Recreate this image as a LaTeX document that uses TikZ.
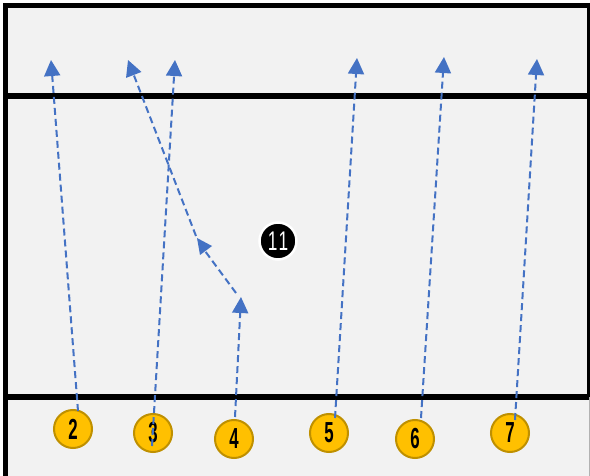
\documentclass[tikz,border=0pt]{standalone}
\usepackage{fontspec}
\usepackage{graphicx}
\setmainfont{Liberation Sans}
\usetikzlibrary{arrows.meta}
\definecolor{bg}{HTML}{F2F2F2}
\definecolor{gold}{HTML}{FFC000}
\definecolor{goldedge}{HTML}{BF9000}
\definecolor{runblue}{HTML}{4472C4}
\begin{document}
\begin{tikzpicture}[x=1pt,y=-1pt,
  player/.style={circle,fill=gold,draw=goldedge,line width=2pt,minimum size=38pt,inner sep=0pt,
    font=\fontsize{29}{29}\selectfont\bfseries},
  keeper/.style={circle,fill=black,draw=white,line width=2.5pt,minimum size=37pt,inner sep=0pt,
    text=white,font=\fontsize{27}{27}\selectfont},
  run/.style={draw=runblue,line width=2pt,dash pattern=on 7pt off 4pt},
  runarrow/.style={run,-{Triangle[length=16pt,width=16pt]}},
  frame/.style={draw=black,line width=5.5pt}]
\useasboundingbox (0,0) rectangle (590,476);
% background
\fill[white] (0,0) rectangle (590,476);
\fill[bg] (3,3) rectangle (590,476);
% frame
\draw[frame] (5.5,476) -- (5.5,5.5) -- (590,5.5);
\draw[frame] (3,96) -- (590,96);
\draw[frame] (3,397) -- (590,397);
\draw[black,line width=2.5pt] (588.5,3) -- (588.5,397);
\draw[gray!60,line width=1pt] (589,397) -- (589,476);
% players
\node[player] (p2) at (73,429) {\scalebox{0.58}[1]{2}};
\node[player] (p3) at (153,433) {\scalebox{0.58}[1]{3}};
\node[player] (p4) at (234,439) {\scalebox{0.58}[1]{4}};
\node[player] (p5) at (329,433) {\scalebox{0.58}[1]{5}};
\node[player] (p6) at (415,439) {\scalebox{0.58}[1]{6}};
\node[player] (p7) at (510,433) {\scalebox{0.58}[1]{7}};
\node[keeper] (k11) at (278,241) {\scalebox{0.64}[1]{1\kern2pt1}};
% run start and end points
\coordinate (s2) at (78,411);
\coordinate (t2) at (51,60);
\coordinate (s3) at (152,446);
\coordinate (t3) at (175,60);
\coordinate (s4) at (235,417);
\coordinate (t4) at (241,297);
\coordinate (a1) at (236,293);
\coordinate (a2) at (205,251);
\coordinate (b1) at (196,236);
\coordinate (tb) at (128,60);
\coordinate (s5) at (335,418);
\coordinate (t5) at (357,58);
\coordinate (s6) at (421,418);
\coordinate (t6) at (444,57);
\coordinate (s7) at (515,420);
\coordinate (t7) at (537,59);
% runs
\draw[runarrow] (s2) -- (t2);
\draw[runarrow] (s3) -- (t3);
\draw[runarrow] (s4) -- (t4);
\draw[run] (a1) -- (a2);
\fill[runblue] (197,238) -- (212,246) -- (200,255) -- cycle;
\draw[runarrow] (b1) -- (tb);
\draw[runarrow] (s5) -- (t5);
\draw[runarrow] (s6) -- (t6);
\draw[runarrow] (s7) -- (t7);
\end{tikzpicture}
\end{document}
